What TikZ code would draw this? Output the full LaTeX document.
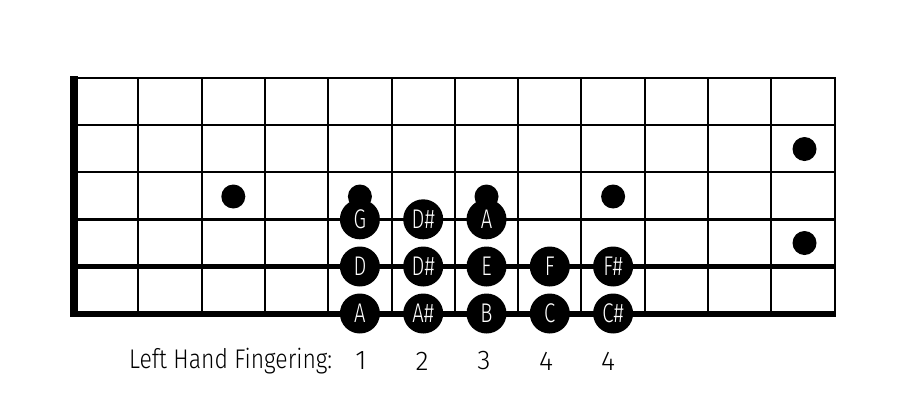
\documentclass[tikz,border=0pt]{standalone}
\usepackage{fontspec}
\setmainfont{Fira Sans Light}
\begin{document}
\begin{tikzpicture}[x=1pt,y=-1pt,
  note/.style={circle,fill=black,minimum size=40pt,inner sep=0pt,text=white,font=\fontsize{27}{27}\selectfont},
  marker/.style={circle,fill=black,minimum size=24pt,inner sep=0pt},
  fing/.style={font=\fontsize{27}{27}\selectfont,inner sep=0pt},
  fretline/.style={line width=2pt},
]
\useasboundingbox (0,0) rectangle (911,400);
% frets
\foreach \k in {0,...,11} {
  \draw[fretline] ({138.3+63.3*\k},77.5) -- ({138.3+63.3*\k},313.5);
}
% strings
\foreach \y/\w in {77.5/2,124.8/2,172/2,219.3/3,266.5/5,313.5/6} {
  \draw[line width=\w pt] (74,\y) -- (835.6,\y);
}
% nut
\fill (70,75.5) rectangle (78,316.5);
% position markers
\node[marker] (m3) at (233.3,196.5) {};
\node[marker] (m5) at (359.9,196.5) {};
\node[marker] (m7) at (486.5,196.5) {};
\node[marker] (m9) at (613.1,196.5) {};
\node[marker] (m12a) at (804.5,149) {};
\node[marker] (m12b) at (804.5,243) {};
% notes
\node[note] (g5) at (359.9,219.3) {\scalebox{0.75}[1]{G}};
\node[note] (g6) at (423.2,219.3) {\scalebox{0.75}[1]{D\#}};
\node[note] (g7) at (486.5,219.3) {\scalebox{0.75}[1]{A}};
\node[note] (d5) at (359.9,266.5) {\scalebox{0.75}[1]{D}};
\node[note] (d6) at (423.2,266.5) {\scalebox{0.75}[1]{D\#}};
\node[note] (d7) at (486.5,266.5) {\scalebox{0.75}[1]{E}};
\node[note] (d8) at (549.8,266.5) {\scalebox{0.75}[1]{F}};
\node[note] (d9) at (613.1,266.5) {\scalebox{0.75}[1]{F\#}};
\node[note] (a5) at (359.9,313.5) {\scalebox{0.75}[1]{A}};
\node[note] (a6) at (423.2,313.5) {\scalebox{0.75}[1]{A\#}};
\node[note] (a7) at (486.5,313.5) {\scalebox{0.75}[1]{B}};
\node[note] (a8) at (549.8,313.5) {\scalebox{0.75}[1]{C}};
\node[note] (a9) at (613.1,313.5) {\scalebox{0.75}[1]{C\#}};
% fingering
\node[fing,anchor=west] (lbl) at (129,361) {\scalebox{0.85}[1]{Left Hand Fingering:}};
\node[fing] (f1) at (361,361) {1};
\node[fing] (f2) at (422,361) {2};
\node[fing] (f3) at (484,361) {3};
\node[fing] (f4) at (546,361) {4};
\node[fing] (f5) at (608,361) {4};
\end{tikzpicture}
\end{document}
